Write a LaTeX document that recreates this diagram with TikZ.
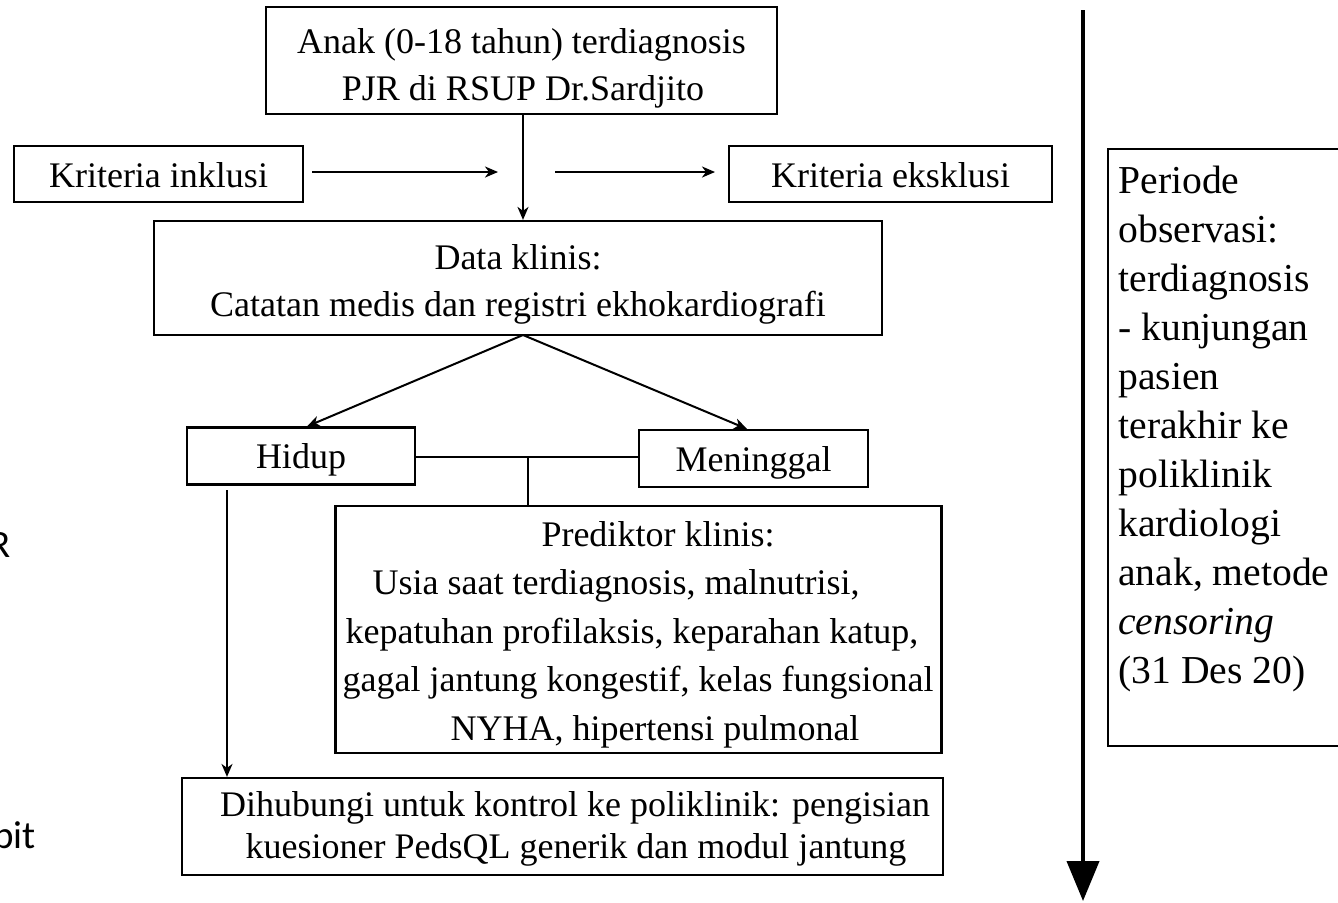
\documentclass[tikz,border=0pt]{standalone}
\usepackage{fontspec}
\setmainfont{Liberation Serif}
\newfontfamily\calfont{Carlito}
\usetikzlibrary{arrows.meta,calc}
\begin{document}
\begin{tikzpicture}[x=0.5pt,y=-0.5pt,
 box/.style={draw,line width=1.1pt,inner sep=0pt},
 txt/.style={inner sep=0pt,anchor=base,font=\fontsize{18}{22}\selectfont},
 ln/.style={line width=1pt},
 arr/.style={ln,-{Stealth[length=6.5pt,width=5.5pt,inset=2pt]}},
 stray/.style={inner sep=0pt,anchor=base east,font=\calfont\fontsize{19.5}{22}\selectfont},
]
\useasboundingbox (0,0) rectangle (1338,902);
\fill[white] (0,0) rectangle (1338,902);

% boxes
\node[box,minimum width=255.5pt,minimum height=53.5pt] (top) at (521.5,60.5) {};
\node[box,minimum width=144.5pt,minimum height=28pt] (inkl) at (158.5,174) {};
\node[box,minimum width=161.5pt,minimum height=28pt] (eksk) at (890.5,174) {};
\node[box,minimum width=364pt,minimum height=57pt] (data) at (518,278) {};
\node[box,minimum width=114pt,minimum height=28.5pt] (hidup) at (301,456) {};
\node[box,minimum width=114.5pt,minimum height=28.5pt] (men) at (753.5,458.5) {};
\node[box,minimum width=303pt,minimum height=123.5pt] (pred) at (638.5,629.5) {};
\node[box,minimum width=380.5pt,minimum height=48.5pt] (dih) at (562.25,826.5) {};
\node[box,anchor=north west,minimum width=130pt,minimum height=298.5pt] (perbox) at (1107,148) {};

% texts
\node[txt] (top1) at (521.5,53) {Anak (0-18 tahun) terdiagnosis};
\node[txt] (top2) at (523,100) {PJR di RSUP Dr.Sardjito};
\node[txt] (inklt) at (158.5,187) {Kriteria inklusi};
\node[txt] (ekskt) at (890.5,187) {Kriteria eksklusi};
\node[txt] (data1) at (518,269) {Data klinis:};
\node[txt] (data2) at (518,316) {Catatan medis dan registri ekhokardiografi};
\node[txt] (hidupt) at (301,468) {Hidup};
\node[txt] (ment) at (753.5,471) {Meninggal};
\node[txt] (pred1) at (658,546) {Prediktor klinis:};
\node[txt] (pred2) at (616,594.5) {Usia saat terdiagnosis, malnutrisi,};
\node[txt] (pred3) at (632,643) {kepatuhan profilaksis, keparahan katup,};
\node[txt] (pred4) at (638,691.5) {gagal jantung kongestif, kelas fungsional};
\node[txt] (pred5) at (655,740) {NYHA, hipertensi pulmonal};
\node[txt] (dih1) at (575,816) {Dihubungi untuk kontrol ke poliklinik: pengisian};
\node[txt] (dih2) at (576,858) {kuesioner PedsQL generik dan modul jantung};
\node[anchor=north west,align=left,inner sep=0pt,font=\fontsize{19.8}{24.5}\selectfont] (pertext) at (1118,166) {Periode\\observasi:\\terdiagnosis\\- kunjungan\\pasien\\terakhir ke\\poliklinik\\kardiologi\\anak, metode\\\textit{censoring}\\(31 Des 20)};

\node[stray] (sr) at (11,557) {R};
\node[stray] (sb) at (36,848) {bit};

% connectors
\coordinate (tx) at (523,114);
\draw[arr] (tx) -- (tx |- data.north);
\coordinate (ia) at (312,172); \coordinate (ib) at (498,172);
\draw[arr] (ia) -- (ib);
\coordinate (ea) at (555,172); \coordinate (eb) at (715,172);
\draw[arr] (ea) -- (eb);
\coordinate (ds) at (523,335);
\draw[arr] (ds) -- ($(hidup.north)+(6,0)$);
\draw[arr] (ds) -- ($(men.north)+(-6.5,0)$);
\coordinate (hm) at (415,457);
\draw[ln] (hm) -- (hm -| men.west);
\coordinate (j) at (528,457);
\draw[ln] (j) -- (j |- pred.north);
\coordinate (hs) at (227,490);
\draw[arr] (hs) -- (hs |- dih.north);

\coordinate (rt) at (1083,10); \coordinate (rb) at (1083,901);
\draw[line width=2pt,-{Triangle[length=20pt,width=16pt]}] (rt) -- (rb);
\end{tikzpicture}
\end{document}
